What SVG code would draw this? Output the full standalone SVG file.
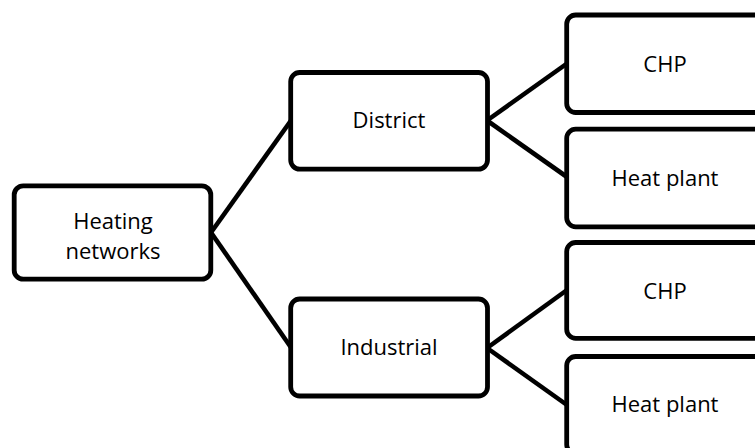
<svg xmlns="http://www.w3.org/2000/svg" width="755" height="448" viewBox="0 0 755 448">
<style>
.box{fill:#fff;stroke:#000;stroke-width:4.8}
.lbl{font-family:"Open Sans","Noto Sans",sans-serif;font-size:22px;fill:#000;text-anchor:middle}
.conn{stroke:#000;stroke-width:4.6;fill:none}
</style>
<rect width="755" height="448" fill="#fff"/>
<g id="connectors">
<line class="conn" x1="211" y1="232.5" x2="291" y2="120.5"/>
<line class="conn" x1="211" y1="232.5" x2="291" y2="347.5"/>
<line class="conn" x1="487" y1="120.5" x2="567" y2="63.5"/>
<line class="conn" x1="487" y1="120.5" x2="567" y2="177"/>
<line class="conn" x1="487" y1="348" x2="567" y2="290"/>
<line class="conn" x1="487" y1="348" x2="567" y2="405"/>
</g>
<g id="heating">
<rect class="box" x="14.2" y="185.8" width="196.6" height="93.4" rx="9"/>
<text class="lbl" x="113" y="229">Heating</text>
<text class="lbl" x="113" y="258.5">networks</text>
</g>
<g id="district">
<rect class="box" x="290.7" y="72.5" width="196.8" height="96.6" rx="9"/>
<text class="lbl" x="389" y="128.3">District</text>
</g>
<g id="industrial">
<rect class="box" x="290.7" y="299" width="196.8" height="97" rx="9"/>
<text class="lbl" x="389" y="355.3">Industrial</text>
</g>
<g id="district-chp">
<rect class="box" x="566.7" y="15" width="197" height="97.5" rx="9"/>
<text class="lbl" x="665" y="71.5">CHP</text>
</g>
<g id="district-heat-plant">
<rect class="box" x="566.7" y="129.2" width="197" height="97.6" rx="9"/>
<text class="lbl" x="665" y="185.5">Heat plant</text>
</g>
<g id="industrial-chp">
<rect class="box" x="566.7" y="242.5" width="197" height="95.8" rx="9"/>
<text class="lbl" x="665" y="298.5">CHP</text>
</g>
<g id="industrial-heat-plant">
<rect class="box" x="566.7" y="356.5" width="197" height="97" rx="9"/>
<text class="lbl" x="665" y="412.3">Heat plant</text>
</g>
</svg>
